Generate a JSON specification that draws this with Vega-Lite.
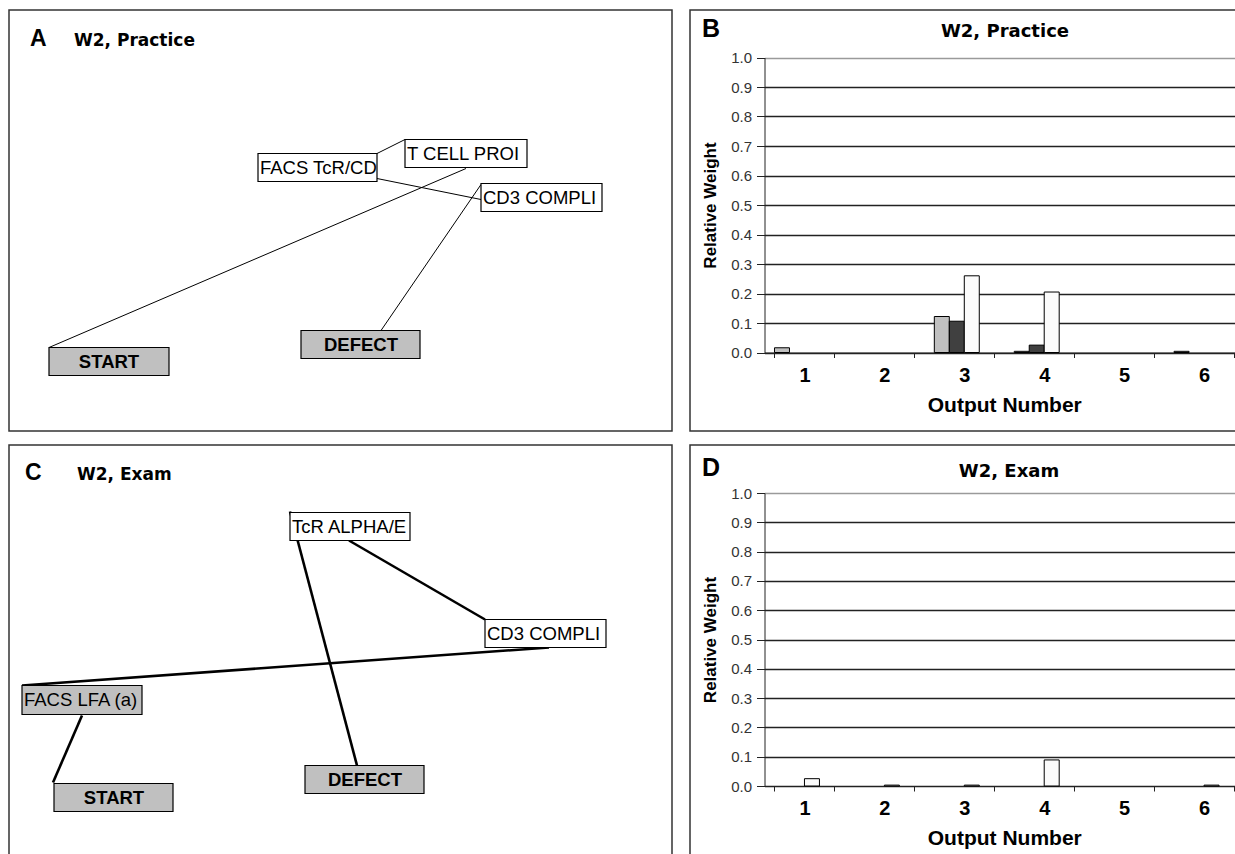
{
  "$schema": "https://vega.github.io/schema/vega-lite/v6.json",
  "padding": {"left": 8, "top": 9, "right": 0, "bottom": 0},
  "background": "white",
  "config": {
    "view": {"stroke": "#333", "strokeWidth": 1.5},
    "font": "Liberation Sans",
    "axis": {"labelFont": "Liberation Sans", "titleFont": "Liberation Sans"}
  },
  "datasets": {
    "nodes": [
      {"panel": "A", "label": "FACS TcR/CD", "kind": "concept", "x1": 257, "x2": 376, "y1": 153, "y2": 181},
      {"panel": "A", "label": "T CELL PROI", "kind": "concept", "x1": 404, "x2": 526, "y1": 139, "y2": 167},
      {"panel": "A", "label": "CD3 COMPLI", "kind": "concept", "x1": 480, "x2": 601, "y1": 183, "y2": 211},
      {"panel": "A", "label": "START", "kind": "terminal", "x1": 48, "x2": 168, "y1": 347, "y2": 375},
      {"panel": "A", "label": "DEFECT", "kind": "terminal", "x1": 300, "x2": 419, "y1": 330, "y2": 358},
      {"panel": "C", "label": "TcR ALPHA/E", "kind": "concept", "x1": 289, "x2": 409, "y1": 510, "y2": 538},
      {"panel": "C", "label": "CD3 COMPLI", "kind": "concept", "x1": 484, "x2": 605, "y1": 617, "y2": 645},
      {"panel": "C", "label": "FACS LFA (a)", "kind": "test", "x1": 21, "x2": 141, "y1": 683, "y2": 712},
      {"panel": "C", "label": "START", "kind": "terminal", "x1": 53, "x2": 172, "y1": 781, "y2": 809},
      {"panel": "C", "label": "DEFECT", "kind": "terminal", "x1": 304, "x2": 423, "y1": 763, "y2": 791}
    ],
    "edges": [
      {"panel": "A", "x1": 376, "y1": 153, "x2": 404, "y2": 139},
      {"panel": "A", "x1": 376, "y1": 178, "x2": 480, "y2": 199},
      {"panel": "A", "x1": 465, "y1": 168, "x2": 48, "y2": 347},
      {"panel": "A", "x1": 480, "y1": 184, "x2": 380, "y2": 330},
      {"panel": "C", "x1": 348, "y1": 538, "x2": 484, "y2": 617},
      {"panel": "C", "x1": 289, "y1": 509, "x2": 356, "y2": 763},
      {"panel": "C", "x1": 21, "y1": 683, "x2": 548, "y2": 645},
      {"panel": "C", "x1": 81, "y1": 713, "x2": 52, "y2": 780}
    ],
    "panels": [
      {"panel": "A", "letter": "A", "title": "W2, Practice"},
      {"panel": "B", "letter": "B", "title": "W2, Practice"},
      {"panel": "C", "letter": "C", "title": "W2, Exam"},
      {"panel": "D", "letter": "D", "title": "W2, Exam"}
    ],
    "weights": [
      {"panel": "B", "output": 1, "series": "s1", "weight": 0.016},
      {"panel": "B", "output": 3, "series": "s1", "weight": 0.122},
      {"panel": "B", "output": 3, "series": "s2", "weight": 0.106},
      {"panel": "B", "output": 3, "series": "s3", "weight": 0.26},
      {"panel": "B", "output": 4, "series": "s1", "weight": 0.004},
      {"panel": "B", "output": 4, "series": "s2", "weight": 0.025},
      {"panel": "B", "output": 4, "series": "s3", "weight": 0.205},
      {"panel": "B", "output": 6, "series": "s1", "weight": 0.004},
      {"panel": "D", "output": 1, "series": "s3", "weight": 0.025},
      {"panel": "D", "output": 2, "series": "s3", "weight": 0.003},
      {"panel": "D", "output": 3, "series": "s3", "weight": 0.003},
      {"panel": "D", "output": 4, "series": "s3", "weight": 0.089},
      {"panel": "D", "output": 6, "series": "s3", "weight": 0.003}
    ]
  },
  "resolve": {"scale": {"fill": "independent"}},
  "vconcat": [
    {
      "resolve": {"scale": {"fill": "independent"}},
      "hconcat": [
        {
          "width": 663,
          "height": 421,
          "layer": [
            {
              "data": {"name": "edges"},
              "transform": [{"filter": "datum.panel === 'A'"}],
              "mark": {"type": "rule", "color": "black", "strokeWidth": 1},
              "encoding": {
                "x": {"field": "x1", "type": "quantitative", "scale": {"domain": [8, 671], "nice": false, "zero": false}, "axis": null},
                "y": {"field": "y1", "type": "quantitative", "scale": {"domain": [9.5, 430.5], "reverse": true, "nice": false, "zero": false}, "axis": null},
                "x2": {"field": "x2"}, "y2": {"field": "y2"}
              }
            },
            {
              "data": {"name": "nodes"},
              "transform": [{"filter": "datum.panel === 'A'"}],
              "mark": {"type": "rect", "stroke": "black", "strokeWidth": 1.2},
              "encoding": {
                "x": {"field": "x1", "type": "quantitative"},
                "y": {"field": "y1", "type": "quantitative"},
                "x2": {"field": "x2"}, "y2": {"field": "y2"},
                "fill": {"field": "kind", "type": "nominal", "scale": {"domain": ["terminal", "test", "concept"], "range": ["#c0c0c0", "#c0c0c0", "#ffffff"]}, "legend": null}
              }
            },
            {
              "data": {"name": "nodes"},
              "transform": [{"filter": "datum.panel === 'A' && datum.kind !== 'terminal'"}],
              "mark": {"type": "text", "align": "left", "baseline": "middle", "dx": 2, "dy": 14.5, "fontSize": 18.5, "color": "black"},
              "encoding": {
                "x": {"field": "x1", "type": "quantitative"},
                "y": {"field": "y1", "type": "quantitative"},
                "text": {"field": "label"}
              }
            },
            {
              "data": {"name": "nodes"},
              "transform": [{"filter": "datum.panel === 'A' && datum.kind === 'terminal'"}],
              "mark": {"type": "text", "align": "center", "baseline": "middle", "dx": 60, "dy": 14.5, "fontSize": 18.5, "fontWeight": "bold", "color": "black"},
              "encoding": {
                "x": {"field": "x1", "type": "quantitative"},
                "y": {"field": "y1", "type": "quantitative"},
                "text": {"field": "label"}
              }
            },
            {
              "data": {"name": "panels"},
              "transform": [{"filter": "datum.panel === 'A'"}],
              "mark": {"type": "text", "align": "left", "baseline": "alphabetic", "fontSize": 23, "fontWeight": "bold", "color": "black"},
              "encoding": {
                "x": {"datum": 29, "type": "quantitative"},
                "y": {"datum": 45.3, "type": "quantitative"},
                "text": {"field": "letter"}
              }
            },
            {
              "data": {"name": "panels"},
              "transform": [{"filter": "datum.panel === 'A'"}],
              "mark": {"type": "text", "align": "left", "baseline": "alphabetic", "font": "DejaVu Sans", "fontSize": 17, "fontWeight": "bold", "color": "black"},
              "encoding": {
                "x": {"datum": 73, "type": "quantitative"},
                "y": {"datum": 45.3, "type": "quantitative"},
                "text": {"field": "title"}
              }
            }
          ]
        },
        {
          "width": 560,
          "height": 421,
          "layer": [
            {
              "data": {"name": "weights"},
              "transform": [{"filter": "datum.panel === 'B'"}],
              "mark": {"type": "bar", "stroke": "black", "strokeWidth": 1},
              "encoding": {
                "x": {
                  "field": "output", "type": "ordinal",
                  "scale": {"domain": [1, 2, 3, 4, 5, 6], "range": [74.5, 554], "paddingInner": 0.25, "paddingOuter": 0.125},
                  "axis": {"title": "Output Number", "offset": -78.5, "tickBand": "extent", "tickSize": 5, "tickColor": "#222", "domainColor": "#222", "labelAngle": 0, "labelFontSize": 20, "labelFontWeight": "bold", "labelColor": "black", "labelPadding": 7.5, "titleFontSize": 21, "titleFontWeight": "bold", "titleColor": "black", "titlePadding": 9, "grid": false}
                },
                "xOffset": {"field": "series", "type": "nominal", "scale": {"domain": ["s1", "s2", "s3", "s4"], "paddingInner": 0, "paddingOuter": 0}},
                "y": {
                  "field": "weight", "type": "quantitative",
                  "scale": {"domain": [0, 1], "range": [342.5, 47.5], "nice": false},
                  "axis": {"title": "Relative Weight", "offset": -74.5, "values": [0, 0.1, 0.2, 0.3, 0.4, 0.5, 0.6, 0.7, 0.8, 0.9, 1], "format": ".1f", "tickSize": 8, "tickColor": "#222", "domainColor": "#222", "labelFontSize": 15, "labelColor": "#333", "labelPadding": 5, "titleFontSize": 17, "titleFontWeight": "bold", "titleColor": "black", "titlePadding": 11, "grid": true, "gridColor": {"condition": {"test": "datum.value === 1", "value": "#9a9a9a"}, "value": "#222"}, "gridWidth": 1.3}
                },
                "fill": {"field": "series", "type": "nominal", "scale": {"domain": ["s1", "s2", "s3", "s4"], "range": ["#c0c0c0", "#404040", "#fbfbfb", "#808080"]}, "legend": null}
              }
            },
            {
              "data": {"name": "panels"},
              "transform": [{"filter": "datum.panel === 'B'"}],
              "mark": {"type": "text", "align": "left", "baseline": "alphabetic", "fontSize": 25, "fontWeight": "bold", "color": "black"},
              "encoding": {
                "x": {"datum": 699, "type": "quantitative", "scale": {"domain": [687, 1247], "nice": false, "zero": false}, "axis": null},
                "y": {"datum": 36, "type": "quantitative", "scale": {"domain": [9.5, 430.5], "reverse": true, "nice": false, "zero": false}, "axis": null},
                "text": {"field": "letter"}
              }
            },
            {
              "data": {"name": "panels"},
              "transform": [{"filter": "datum.panel === 'B'"}],
              "mark": {"type": "text", "align": "center", "baseline": "alphabetic", "font": "DejaVu Sans", "fontSize": 18, "fontWeight": "bold", "color": "black"},
              "encoding": {
                "x": {"datum": 1002, "type": "quantitative", "scale": {"domain": [687, 1247], "nice": false, "zero": false}, "axis": null},
                "y": {"datum": 36.5, "type": "quantitative", "scale": {"domain": [9.5, 430.5], "reverse": true, "nice": false, "zero": false}, "axis": null},
                "text": {"field": "title"}
              }
            }
          ],
          "resolve": {"scale": {"x": "independent", "y": "independent"}}
        }
      ],
      "spacing": 16
    },
    {
      "resolve": {"scale": {"fill": "independent"}},
      "hconcat": [
        {
          "width": 663,
          "height": 421,
          "layer": [
            {
              "data": {"name": "edges"},
              "transform": [{"filter": "datum.panel === 'C'"}],
              "mark": {"type": "rule", "color": "black", "strokeWidth": 2.6},
              "encoding": {
                "x": {"field": "x1", "type": "quantitative", "scale": {"domain": [8, 671], "nice": false, "zero": false}, "axis": null},
                "y": {"field": "y1", "type": "quantitative", "scale": {"domain": [442.5, 863.5], "reverse": true, "nice": false, "zero": false}, "axis": null},
                "x2": {"field": "x2"}, "y2": {"field": "y2"}
              }
            },
            {
              "data": {"name": "nodes"},
              "transform": [{"filter": "datum.panel === 'C'"}],
              "mark": {"type": "rect", "stroke": "black", "strokeWidth": 1.2},
              "encoding": {
                "x": {"field": "x1", "type": "quantitative"},
                "y": {"field": "y1", "type": "quantitative"},
                "x2": {"field": "x2"}, "y2": {"field": "y2"},
                "fill": {"field": "kind", "type": "nominal", "scale": {"domain": ["terminal", "test", "concept"], "range": ["#c0c0c0", "#c0c0c0", "#ffffff"]}, "legend": null}
              }
            },
            {
              "data": {"name": "nodes"},
              "transform": [{"filter": "datum.panel === 'C' && datum.kind !== 'terminal'"}],
              "mark": {"type": "text", "align": "left", "baseline": "middle", "dx": 2, "dy": 14.5, "fontSize": 18.5, "color": "black"},
              "encoding": {
                "x": {"field": "x1", "type": "quantitative"},
                "y": {"field": "y1", "type": "quantitative"},
                "text": {"field": "label"}
              }
            },
            {
              "data": {"name": "nodes"},
              "transform": [{"filter": "datum.panel === 'C' && datum.kind === 'terminal'"}],
              "mark": {"type": "text", "align": "center", "baseline": "middle", "dx": 60, "dy": 14.5, "fontSize": 18.5, "fontWeight": "bold", "color": "black"},
              "encoding": {
                "x": {"field": "x1", "type": "quantitative"},
                "y": {"field": "y1", "type": "quantitative"},
                "text": {"field": "label"}
              }
            },
            {
              "data": {"name": "panels"},
              "transform": [{"filter": "datum.panel === 'C'"}],
              "mark": {"type": "text", "align": "left", "baseline": "alphabetic", "fontSize": 23, "fontWeight": "bold", "color": "black"},
              "encoding": {
                "x": {"datum": 24, "type": "quantitative"},
                "y": {"datum": 477, "type": "quantitative"},
                "text": {"field": "letter"}
              }
            },
            {
              "data": {"name": "panels"},
              "transform": [{"filter": "datum.panel === 'C'"}],
              "mark": {"type": "text", "align": "left", "baseline": "alphabetic", "font": "DejaVu Sans", "fontSize": 17, "fontWeight": "bold", "color": "black"},
              "encoding": {
                "x": {"datum": 76, "type": "quantitative"},
                "y": {"datum": 477, "type": "quantitative"},
                "text": {"field": "title"}
              }
            }
          ]
        },
        {
          "width": 560,
          "height": 421,
          "layer": [
            {
              "data": {"name": "weights"},
              "transform": [{"filter": "datum.panel === 'D'"}],
              "mark": {"type": "bar", "stroke": "black", "strokeWidth": 1},
              "encoding": {
                "x": {
                  "field": "output", "type": "ordinal",
                  "scale": {"domain": [1, 2, 3, 4, 5, 6], "range": [74.5, 554], "paddingInner": 0.25, "paddingOuter": 0.125},
                  "axis": {"title": "Output Number", "offset": -80, "tickBand": "extent", "tickSize": 5, "tickColor": "#222", "domainColor": "#222", "labelAngle": 0, "labelFontSize": 20, "labelFontWeight": "bold", "labelColor": "black", "labelPadding": 7.5, "titleFontSize": 21, "titleFontWeight": "bold", "titleColor": "black", "titlePadding": 9, "grid": false}
                },
                "xOffset": {"field": "series", "type": "nominal", "scale": {"domain": ["s1", "s2", "s3", "s4"], "paddingInner": 0, "paddingOuter": 0}},
                "y": {
                  "field": "weight", "type": "quantitative",
                  "scale": {"domain": [0, 1], "range": [341, 48], "nice": false},
                  "axis": {"title": "Relative Weight", "offset": -74.5, "values": [0, 0.1, 0.2, 0.3, 0.4, 0.5, 0.6, 0.7, 0.8, 0.9, 1], "format": ".1f", "tickSize": 8, "tickColor": "#222", "domainColor": "#222", "labelFontSize": 15, "labelColor": "#333", "labelPadding": 5, "titleFontSize": 17, "titleFontWeight": "bold", "titleColor": "black", "titlePadding": 11, "grid": true, "gridColor": {"condition": {"test": "datum.value === 1", "value": "#9a9a9a"}, "value": "#222"}, "gridWidth": 1.3}
                },
                "fill": {"field": "series", "type": "nominal", "scale": {"domain": ["s1", "s2", "s3", "s4"], "range": ["#c0c0c0", "#404040", "#fbfbfb", "#808080"]}, "legend": null}
              }
            },
            {
              "data": {"name": "panels"},
              "transform": [{"filter": "datum.panel === 'D'"}],
              "mark": {"type": "text", "align": "left", "baseline": "alphabetic", "fontSize": 25, "fontWeight": "bold", "color": "black"},
              "encoding": {
                "x": {"datum": 699, "type": "quantitative", "scale": {"domain": [687, 1247], "nice": false, "zero": false}, "axis": null},
                "y": {"datum": 473, "type": "quantitative", "scale": {"domain": [442.5, 863.5], "reverse": true, "nice": false, "zero": false}, "axis": null},
                "text": {"field": "letter"}
              }
            },
            {
              "data": {"name": "panels"},
              "transform": [{"filter": "datum.panel === 'D'"}],
              "mark": {"type": "text", "align": "center", "baseline": "alphabetic", "font": "DejaVu Sans", "fontSize": 18, "fontWeight": "bold", "color": "black"},
              "encoding": {
                "x": {"datum": 1006, "type": "quantitative", "scale": {"domain": [687, 1247], "nice": false, "zero": false}, "axis": null},
                "y": {"datum": 474, "type": "quantitative", "scale": {"domain": [442.5, 863.5], "reverse": true, "nice": false, "zero": false}, "axis": null},
                "text": {"field": "title"}
              }
            }
          ],
          "resolve": {"scale": {"x": "independent", "y": "independent"}}
        }
      ],
      "spacing": 16
    }
  ],
  "spacing": 12
}
